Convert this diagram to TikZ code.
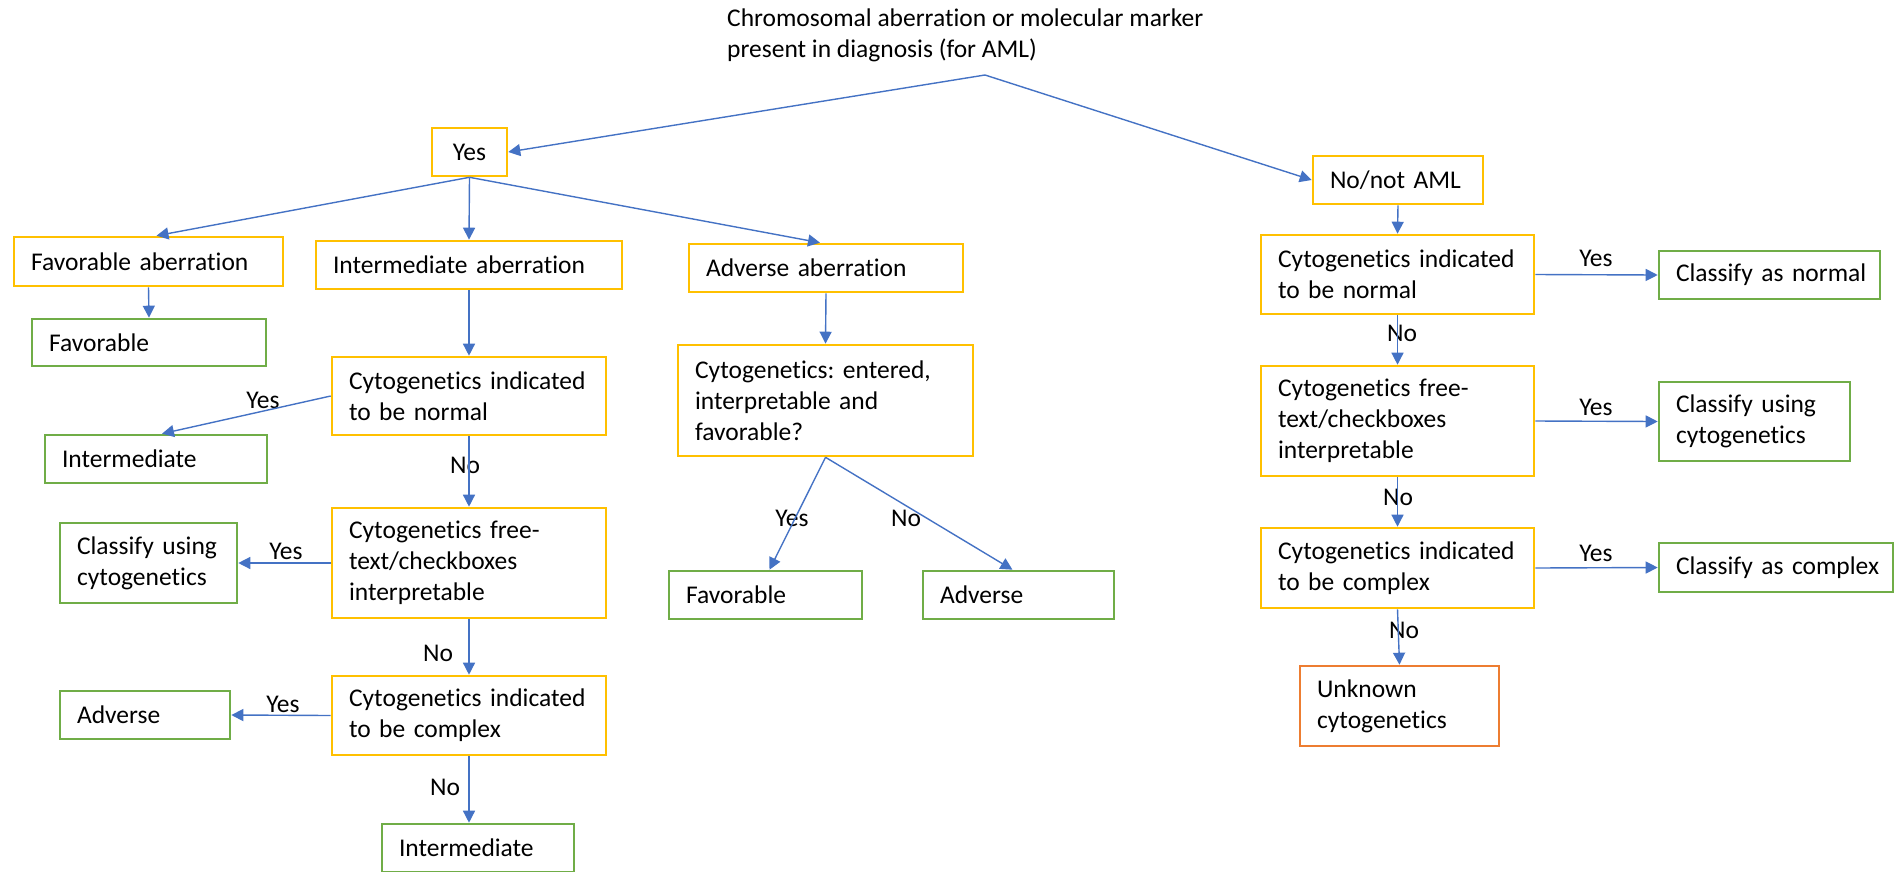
\documentclass[tikz,border=0pt]{standalone}
\usepackage{fontspec}
\setmainfont{Carlito}[Ligatures=NoCommon]
\usetikzlibrary{arrows.meta}
\definecolor{cgold}{HTML}{FFC000}
\definecolor{cgreen}{HTML}{70AD47}
\definecolor{corange}{HTML}{ED7D31}
\definecolor{cblue}{HTML}{4472C4}
\frenchspacing
\begin{document}
\begin{tikzpicture}[x=1pt,y=-1pt, font=\fontsize{25.5}{31}\selectfont,
  box/.style={draw, line width=2.6pt, rectangle, inner xsep=17pt, inner ysep=0pt, align=left, text=black},
  qbox/.style={box, draw=cgold},
  rbox/.style={box, draw=cgreen},
  ubox/.style={box, draw=corange},
  conn/.style={draw=cblue, line width=1.4pt, -{Triangle[length=12pt,width=12pt]}},
  lbl/.style={inner sep=0pt, text=black}]
\useasboundingbox (0,0) rectangle (1903,871);
% title
\node[anchor=north west, align=left, inner sep=0pt] (title) at (727,9)
  {Chromosomal aberration or molecular marker\\present in diagnosis (for AML)};
\coordinate (fork) at (985,75);
% level 1
\node[qbox, align=center, inner xsep=0pt, minimum width=75pt, minimum height=48pt] (yes) at (469.5,152) {Yes};
\node[qbox, text width=136pt, minimum height=48pt] (noaml) at (1398,180) {\mbox{No/not AML}};
% left tree
\node[qbox, text width=235pt, minimum height=49pt] (fa) at (148.5,261.5) {\mbox{Favorable aberration}};
\node[qbox, text width=272pt, minimum height=48pt] (ia) at (469,265) {\mbox{Intermediate aberration}};
\node[qbox, text width=240pt, minimum height=48pt] (aa) at (826,268) {\mbox{Adverse aberration}};
\node[rbox, text width=200pt, minimum height=47pt] (fav1) at (149,342.5) {Favorable};
\node[qbox, text width=240pt, minimum height=78pt] (l1) at (469,396) {\mbox{Cytogenetics indicated}\\\mbox{to be normal}};
\node[rbox, text width=188pt, minimum height=48pt] (int1) at (156,459) {Intermediate};
\node[qbox, text width=240pt, minimum height=110pt] (l2) at (469,563) {\mbox{Cytogenetics free-}\\\mbox{text/checkboxes}\\interpretable};
\node[rbox, text width=143pt, minimum height=80pt] (cls1) at (148.5,563) {\mbox{Classify using}\\cytogenetics};
\node[qbox, text width=240pt, minimum height=79pt] (l3) at (469,715.5) {\mbox{Cytogenetics indicated}\\\mbox{to be complex}};
\node[rbox, text width=136pt, minimum height=48pt] (adv1) at (145,715) {Adverse};
\node[rbox, text width=158pt, minimum height=48pt] (int2) at (478,848) {Intermediate};
% adverse branch
\node[qbox, text width=261pt, minimum height=111pt] (m1) at (825.5,400.5) {\mbox{Cytogenetics: entered,}\\\mbox{interpretable and}\\favorable?};
\node[rbox, text width=159pt, minimum height=48pt] (fav2) at (765.5,595) {Favorable};
\node[rbox, text width=157pt, minimum height=48pt] (adv2) at (1018.5,595) {Adverse};
% right tree
\node[qbox, text width=239pt, minimum height=79pt] (r1) at (1397.5,274.5) {\mbox{Cytogenetics indicated}\\\mbox{to be normal}};
\node[rbox, text width=187pt, minimum height=48pt] (cn) at (1769.5,275) {\mbox{Classify as normal}};
\node[qbox, text width=239pt, minimum height=110pt] (r2) at (1397.5,421) {\mbox{Cytogenetics free-}\\\mbox{text/checkboxes}\\interpretable};
\node[rbox, text width=157pt, minimum height=79pt] (cls2) at (1754.5,421.5) {\mbox{Classify using}\\cytogenetics};
\node[qbox, text width=239pt, minimum height=80pt] (r3) at (1397.5,568) {\mbox{Cytogenetics indicated}\\\mbox{to be complex}};
\node[rbox, text width=200pt, minimum height=49pt] (cc) at (1776,567.5) {\mbox{Classify as complex}};
\node[ubox, text width=165pt, minimum height=80pt] (unk) at (1399.5,706) {Unknown\\cytogenetics};
% labels
\node[lbl] (y1) at (263,400) {Yes};
\node[lbl] (n1) at (465,465) {No};
\node[lbl] (y2) at (286,551) {Yes};
\node[lbl] (n2) at (438,653) {No};
\node[lbl] (y3) at (283,704) {Yes};
\node[lbl] (n3) at (445,787) {No};
\node[lbl] (y4) at (792,518) {Yes};
\node[lbl] (n4) at (906,518) {No};
\node[lbl] (y5) at (1596,258) {Yes};
\node[lbl] (n5) at (1402,333) {No};
\node[lbl] (y6) at (1596,407) {Yes};
\node[lbl] (n6) at (1398,497) {No};
\node[lbl] (y7) at (1596,553) {Yes};
\node[lbl] (n7) at (1404,630) {No};
% connectors
\draw[conn] (fork) -- (yes.east);
\draw[conn] (fork) -- (noaml.west);
\draw[conn] (yes.south) -- ([xshift=8pt]fa.north);
\draw[conn] (yes.south) -- (ia.north);
\draw[conn] (yes.south) -- ([xshift=-6pt]aa.north);
\draw[conn] (fa.south) -- (fav1.north);
\draw[conn] (ia.south) -- (l1.north);
\draw[conn] (l1.west) -- ([xshift=6pt]int1.north);
\draw[conn] (l1.south) -- (l2.north);
\draw[conn] (l2.west) -- (cls1.east);
\draw[conn] (l2.south) -- (l3.north);
\draw[conn] (l3.west) -- (adv1.east);
\draw[conn] (l3.south) -- (l3.south |- int2.north);
\draw[conn] (aa.south) -- (m1.north);
\draw[conn] (m1.south) -- ([xshift=4pt]fav2.north);
\draw[conn] (m1.south) -- ([xshift=-6pt]adv2.north);
\draw[conn] (noaml.south) -- (r1.north);
\draw[conn] (r1.east) -- (cn.west);
\draw[conn] (r1.south) -- (r2.north);
\draw[conn] (r2.east) -- (cls2.west);
\draw[conn] (r2.south) -- (r3.north);
\draw[conn] (r3.east) -- (cc.west);
\draw[conn] (r3.south) -- (unk.north);
\end{tikzpicture}
\end{document}
